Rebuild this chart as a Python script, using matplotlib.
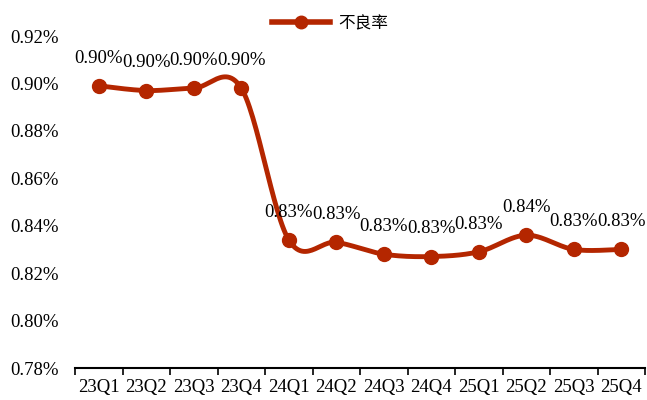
import numpy as np
import matplotlib
matplotlib.use("Agg")
import matplotlib.pyplot as plt
from matplotlib.ticker import FuncFormatter, MultipleLocator

categories = ["23Q1", "23Q2", "23Q3", "23Q4", "24Q1", "24Q2", "24Q3", "24Q4",
              "25Q1", "25Q2", "25Q3", "25Q4"]
npl_ratio = [0.899, 0.897, 0.898, 0.898, 0.834, 0.833, 0.828, 0.827,
             0.829, 0.836, 0.830, 0.830]
labels = ["0.90%", "0.90%", "0.90%", "0.90%", "0.83%", "0.83%", "0.83%", "0.83%",
          "0.83%", "0.84%", "0.83%", "0.83%"]
series_name = "不良率"

color = "#B42600"
plt.rcParams['font.family'] = ['Liberation Serif', 'Noto Sans CJK SC']

fig = plt.figure(figsize=(6.47, 4.0), dpi=100)
ax = fig.add_axes([0.116, 0.08, 0.881, 0.83])

x = np.arange(len(categories))
y = np.array(npl_ratio)

# Catmull-Rom style smoothing (like Excel smoothed line)
def smooth(xp, yp, n=30):
    xs, ys = [], []
    P = np.column_stack([xp, yp])
    for i in range(len(P) - 1):
        p0 = P[i - 1] if i > 0 else P[i]
        p1 = P[i]
        p2 = P[i + 1]
        p3 = P[i + 2] if i + 2 < len(P) else P[i + 1]
        c1 = p1 + (p2 - p0) / 6.0
        c2 = p2 - (p3 - p1) / 6.0
        t = np.linspace(0, 1, n)[:, None]
        b = (1 - t) ** 3 * p1 + 3 * (1 - t) ** 2 * t * c1 + 3 * (1 - t) * t ** 2 * c2 + t ** 3 * p2
        xs.append(b[:, 0]); ys.append(b[:, 1])
    return np.concatenate(xs), np.concatenate(ys)

sx, sy = smooth(x.astype(float), y)
ax.plot(sx, sy, color=color, lw=3.5, solid_capstyle='round', zorder=2)
ax.plot(x, y, 'o', color=color, ms=10, zorder=3)
ax.plot([], [], '-o', color=color, lw=4, ms=9, label=series_name)

for xi, yi, lab in zip(x, y, labels):
    ax.annotate(lab, (xi, yi), xytext=(0, 20), textcoords='offset points',
                ha='center', va='center', fontsize=13.5, color='black')

ax.set_xlim(-0.5, len(categories) - 0.5)
ax.set_ylim(0.78, 0.92)
ax.yaxis.set_major_locator(MultipleLocator(0.02))
ax.yaxis.set_major_formatter(FuncFormatter(lambda v, p: f"{v:.2f}%"))
ax.set_xticks(x)
ax.set_xticklabels(categories)
ax.set_xticks(np.arange(-0.5, len(categories), 1.0), minor=True)
ax.tick_params(axis='x', which='major', length=0, pad=8, labelsize=13.5)
ax.tick_params(axis='x', which='minor', length=5, width=1.2, direction='out')
ax.tick_params(axis='y', length=0, pad=12, labelsize=13.5)

for s in ['top', 'right', 'left']:
    ax.spines[s].set_visible(False)
ax.spines['bottom'].set_linewidth(1.5)

leg = fig.legend(loc='upper center', bbox_to_anchor=(0.51, 1.0), frameon=False,
                 prop={'family': ['Noto Sans CJK SC'], 'size': 12},
                 handlelength=3.5, handletextpad=0.5)

fig.savefig("out.png", dpi=100)
